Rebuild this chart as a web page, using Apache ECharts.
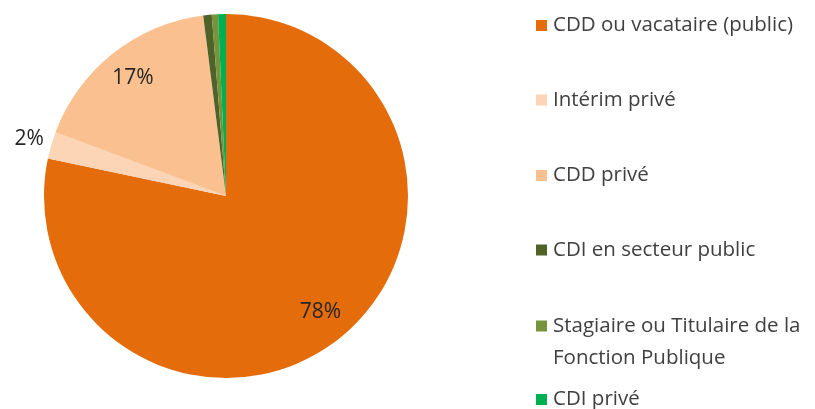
<!DOCTYPE html>
<html>
<head>
<meta charset="utf-8">
<script src="https://cdn.jsdelivr.net/npm/echarts@6/dist/echarts.min.js"></script>
<style>
  html, body { margin: 0; padding: 0; background: #fff; }
  #pie { width: 815px; height: 409px; }
</style>
</head>
<body>
<div id="pie"></div>
<script>
// statuts (ordre horaire depuis midi)
var categories = ['CDD ou vacataire (public)', 'Intérim privé', 'CDD privé', 'CDI en secteur public', 'Stagiaire ou Titulaire de la\nFonction Publique', 'CDI privé'];
var values = [78.3, 2.4, 17.3, 0.75, 0.55, 0.7];
var colors = ['#E46C0A', '#FBD5B5', '#FAC090', '#4F6228', '#77933C', '#00B050'];
// étiquettes affichées seulement pour ces parts
var labelledInner = ['CDD ou vacataire (public)', 'CDD privé'];
var labelledOuter = ['Intérim privé'];

var FONT = '"Open Sans", sans-serif';
var chart = echarts.init(document.getElementById('pie'));

function pct(p) { return Math.round(p.percent) + '%'; }

// données d'une série "porte-étiquettes" transparente
function labelData(shown) {
  return categories.map(function (name, i) {
    return {
      name: name,
      value: values[i],
      itemStyle: { color: 'transparent' },
      label: { show: shown.indexOf(name) >= 0 }
    };
  });
}

var legendTops = [13.5, 88, 163.5, 238, 278, 387.5];
var legends = categories.map(function (name, i) {
  var multi = name.indexOf('\n') >= 0;
  return {
    data: [name],
    orient: 'vertical',
    left: 536,
    top: legendTops[i],
    padding: 0,
    icon: 'rect',
    itemWidth: 11,
    itemHeight: 11,
    selectedMode: false,
    // ligne vide en tête : la 1re ligne du libellé reste alignée sur le carré
    formatter: multi ? function (n) { return '\n' + n; } : '{name}',
    textStyle: {
      fontFamily: FONT,
      fontSize: 20.5,
      lineHeight: multi ? 32 : 24,
      color: '#404040',
      padding: [0, 0, 0, 1]
    }
  };
});

var option = {
  animation: false,
  color: colors,
  legend: legends,
  series: [
    {
      name: 'main',
      type: 'pie',
      center: [226, 196],
      radius: 182,
      startAngle: 90,
      clockwise: true,
      silent: true,
      label: { show: false },
      labelLine: { show: false },
      data: categories.map(function (name, i) {
        return { name: name, value: values[i] };
      })
    },
    {
      name: 'labelsInner',
      type: 'pie',
      center: [226, 196],
      radius: 294,
      silent: true,
      label: { position: 'inside', formatter: pct, fontFamily: FONT, fontSize: 21, color: '#262626' },
      labelLine: { show: false },
      data: labelData(labelledInner)
    },
    {
      name: 'labelsOuter',
      type: 'pie',
      center: [226, 196],
      radius: 404,
      silent: true,
      label: { position: 'inside', formatter: pct, fontFamily: FONT, fontSize: 21, color: '#262626' },
      labelLine: { show: false },
      data: labelData(labelledOuter)
    }
  ]
};

chart.setOption(option);
</script>
</body>
</html>
